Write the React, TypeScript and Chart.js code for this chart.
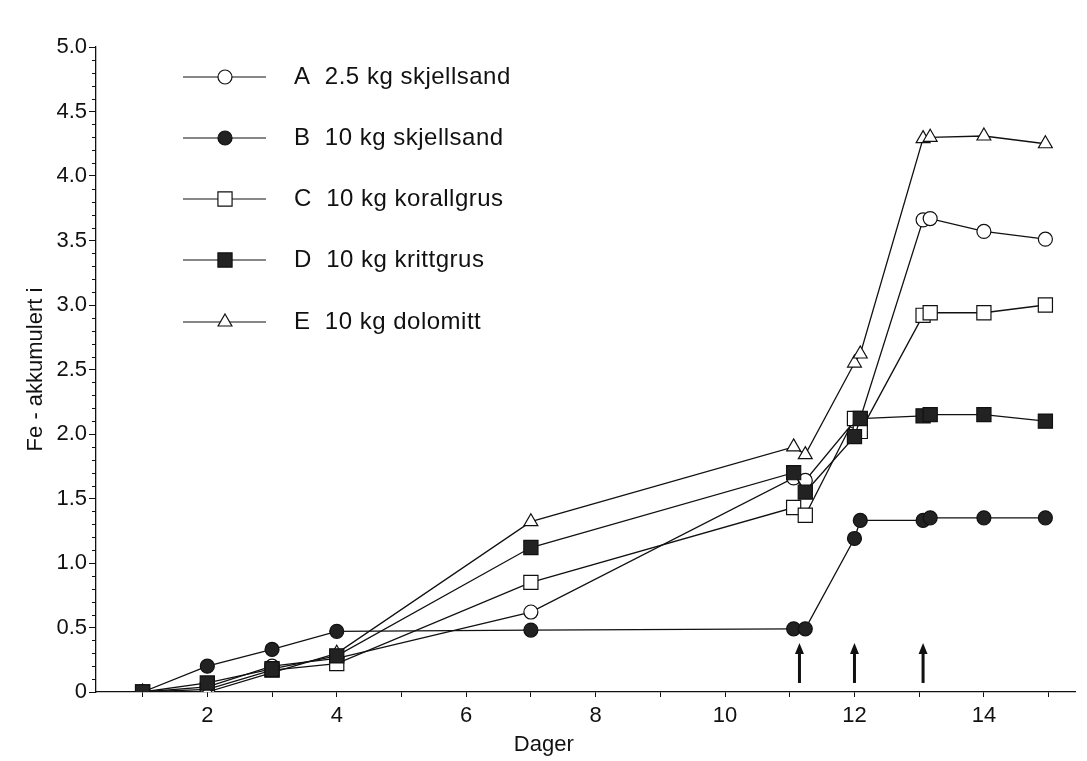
import React, { useEffect, useRef } from 'react';
import { Chart, registerables } from 'chart.js';

Chart.register(...registerables);

// ---- data ----
const days = [1, 2, 3, 4, 7, 11.06, 11.24, 12, 12.09, 13.06, 13.17, 14, 14.95];
const seriesA = [0, 0.04, 0.2, 0.26, 0.62, 1.66, 1.64, 2.1, 2.12, 3.66, 3.67, 3.57, 3.51];
const seriesB = [0, 0.2, 0.33, 0.47, 0.48, 0.49, 0.49, 1.19, 1.33, 1.33, 1.35, 1.35, 1.35];
const seriesC = [0, 0.02, 0.17, 0.22, 0.85, 1.43, 1.37, 2.12, 2.02, 2.92, 2.94, 2.94, 3.0];
const seriesD = [0, 0.07, 0.18, 0.28, 1.12, 1.7, 1.55, 1.98, 2.12, 2.14, 2.15, 2.15, 2.1];
const seriesE = [0, 0, 0.15, 0.3, 1.32, 1.9, 1.84, 2.55, 2.62, 4.29, 4.3, 4.31, 4.25];
const seriesLabels = [
  'A  2.5 kg skjellsand',
  'B  10 kg skjellsand',
  'C  10 kg korallgrus',
  'D  10 kg krittgrus',
  'E  10 kg dolomitt',
];
const arrowDays = [11.15, 12, 13.06];
const arrowRange = [0.07, 0.38];
const xLabelDays = [2, 4, 6, 8, 10, 12, 14];
const yMin = 0;
const yMax = 5;
const yMajorStep = 0.5;
const yMinorStep = 0.1;
const xTitle = 'Dager';
const xTitleDay = 7.2;
const yTitle = 'Fe - akkumulert i';

const INK = '#111';
const FONT = "'Liberation Sans', Arial, Helvetica, sans-serif";

type Style = { pointStyle: string; filled: boolean; radius: number; order: number };
const styles: Style[] = [
  { pointStyle: 'circle', filled: false, radius: 7, order: 5 },
  { pointStyle: 'circle', filled: true, radius: 7, order: 2 },
  { pointStyle: 'rect', filled: false, radius: 10, order: 4 },
  { pointStyle: 'rect', filled: true, radius: 10, order: 1 },
  { pointStyle: 'triangle', filled: false, radius: 8, order: 3 },
];
const allSeries = [seriesA, seriesB, seriesC, seriesD, seriesE];

function drawMarker(ctx: CanvasRenderingContext2D, st: Style, x: number, y: number) {
  ctx.save();
  ctx.beginPath();
  const r = st.radius;
  if (st.pointStyle === 'circle') {
    ctx.arc(x, y, r, 0, Math.PI * 2);
  } else if (st.pointStyle === 'rect') {
    const s = r * Math.SQRT1_2;
    ctx.rect(x - s, y - s, 2 * s, 2 * s);
  } else {
    ctx.moveTo(x, y - r);
    ctx.lineTo(x + r * Math.sin((2 * Math.PI) / 3), y - r * Math.cos((2 * Math.PI) / 3));
    ctx.lineTo(x + r * Math.sin((4 * Math.PI) / 3), y - r * Math.cos((4 * Math.PI) / 3));
    ctx.closePath();
  }
  ctx.fillStyle = st.filled ? '#222' : '#fff';
  ctx.fill();
  ctx.lineWidth = 1.2;
  ctx.strokeStyle = INK;
  ctx.stroke();
  ctx.restore();
}

const extrasPlugin = {
  id: 'extras',
  afterDraw(chart: any) {
    const ctx: CanvasRenderingContext2D = chart.ctx;
    const xs = chart.scales.x;
    const ys = chart.scales.y;
    // minor y ticks
    ctx.save();
    ctx.strokeStyle = INK;
    ctx.lineWidth = 1;
    const ax = xs.left;
    for (let v = yMin; v <= yMax + 1e-9; v += yMinorStep) {
      const r = Math.round(v * 10) / 10;
      if (Math.abs(r / yMajorStep - Math.round(r / yMajorStep)) < 1e-6) continue;
      const py = Math.round(ys.getPixelForValue(r)) + 0.5;
      ctx.beginPath();
      ctx.moveTo(ax - 4, py);
      ctx.lineTo(ax, py);
      ctx.stroke();
    }
    ctx.restore();

    // arrows
    ctx.save();
    ctx.fillStyle = INK;
    for (const d of arrowDays) {
      const px = xs.getPixelForValue(d);
      const yb = ys.getPixelForValue(arrowRange[0]);
      const yt = ys.getPixelForValue(arrowRange[1]);
      ctx.fillRect(px - 1.5, yt + 8, 3, yb - yt - 8);
      ctx.beginPath();
      ctx.moveTo(px, yt);
      ctx.lineTo(px + 4.5, yt + 11);
      ctx.lineTo(px - 4.5, yt + 11);
      ctx.closePath();
      ctx.fill();
    }
    ctx.restore();

    // x-axis title (sits left of centre in the reference)
    ctx.save();
    ctx.font = `22px ${FONT}`;
    ctx.fillStyle = INK;
    ctx.textAlign = 'center';
    ctx.textBaseline = 'middle';
    ctx.fillText(xTitle, xs.getPixelForValue(xTitleDay), 745);
    ctx.restore();

    // legend
    const legendYs = [77, 138, 199, 260, 322];
    ctx.save();
    ctx.font = `24px ${FONT}`;
    (ctx as any).letterSpacing = '0.5px';
    ctx.textBaseline = 'middle';
    ctx.textAlign = 'left';
    seriesLabels.forEach((lab, i) => {
      const y = legendYs[i];
      ctx.strokeStyle = INK;
      ctx.lineWidth = 1.2;
      ctx.beginPath();
      ctx.moveTo(183, y);
      ctx.lineTo(266, y);
      ctx.stroke();
      drawMarker(ctx, styles[i], 225, y);
      ctx.fillStyle = INK;
      ctx.fillText(lab, 294, y);
    });
    ctx.restore();
  },
};

export default function App() {
  const ref = useRef<HTMLCanvasElement>(null);
  useEffect(() => {
    if (!ref.current) return;
    const datasets = allSeries.map((vals, i) => {
      const st = styles[i];
      return {
        label: seriesLabels[i],
        data: days.map((d, j) => ({ x: d, y: vals[j] })),
        showLine: true,
        borderColor: INK,
        borderWidth: 1.3,
        pointStyle: st.pointStyle,
        pointRadius: st.radius,
        pointBackgroundColor: st.filled ? '#222' : '#fff',
        pointBorderColor: INK,
        pointBorderWidth: 1.2,
        order: st.order,
      };
    });
    const chart = new Chart(ref.current, {
      type: 'scatter',
      data: { datasets } as any,
      options: {
        animation: false,
        responsive: false,
        devicePixelRatio: 1,
        layout: { padding: { top: 47, right: 7, left: 0, bottom: 0 } },
        plugins: { legend: { display: false }, tooltip: { enabled: false } },
        scales: {
          x: {
            type: 'linear',
            min: 0.28,
            max: 15.42,
            afterFit: (s: any) => { s.height = 69; },
            afterBuildTicks: (s: any) => {
              const t = [];
              for (let d = 1; d <= 15; d++) t.push({ value: d });
              s.ticks = t;
            },
            ticks: {
              autoSkip: false,
              maxRotation: 0,
              padding: 6,
              color: INK,
              font: { family: FONT, size: 22 },
              callback: (v: any) => (xLabelDays.includes(Number(v)) ? String(v) : ''),
            },
            grid: { display: true, drawOnChartArea: false, drawTicks: true, tickLength: 5, color: INK, lineWidth: 1 },
            border: { display: true, color: INK, width: 1.3 },
            title: { display: false },
          },
          y: {
            type: 'linear',
            min: yMin,
            max: yMax,
            afterFit: (s: any) => { s.width = 96; },
            ticks: {
              stepSize: yMajorStep,
              padding: 2,
              color: INK,
              font: { family: FONT, size: 22 },
              callback: (v: any) => (Number(v) === 0 ? '0' : Number(v).toFixed(1)),
            },
            grid: { display: true, drawOnChartArea: false, drawTicks: true, tickLength: 7, color: INK, lineWidth: 1 },
            border: { display: true, color: INK, width: 1.3 },
            title: { display: true, text: yTitle, color: INK, font: { family: FONT, size: 22 }, padding: { top: 23, bottom: 0 } },
          },
        },
      },
      plugins: [extrasPlugin],
    } as any);
    return () => chart.destroy();
  }, []);
  return (
    <div style={{ position: 'fixed', left: 0, top: 0, width: 1087, height: 761, background: '#fff' }}>
      <canvas ref={ref} width={1087} height={761} style={{ display: 'block', width: 1087, height: 761 }} />
    </div>
  );
}
